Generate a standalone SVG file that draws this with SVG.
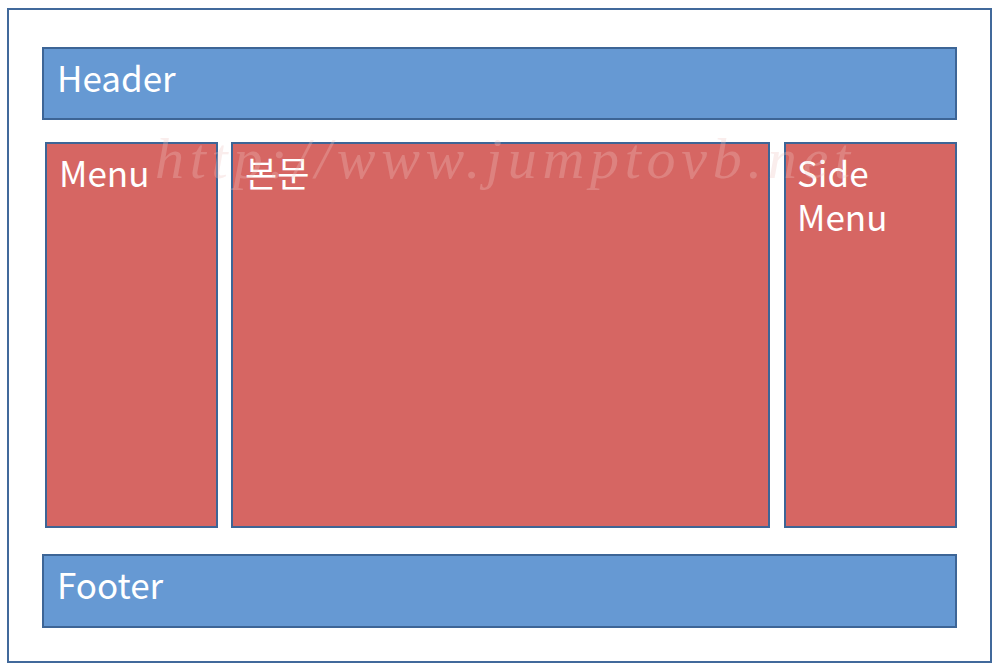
<svg xmlns="http://www.w3.org/2000/svg" width="1000" height="671" viewBox="0 0 1000 671">
<style>
.blue{fill:#6699d3;stroke:#3d6596;stroke-width:2}
.red{fill:#d66663;stroke:#3d6596;stroke-width:2}
.t{font-family:"Malgun Gothic","Noto Sans CJK KR","Noto Sans",sans-serif;font-size:35px;fill:#fff}
</style>
<rect width="1000" height="671" fill="#fff"/>
<rect x="8" y="9" width="983" height="653" fill="#fff" stroke="#41699b" stroke-width="2"/>
<g id="header"><rect class="blue" x="43" y="48" width="913" height="71"/><text class="t" x="57" y="92">Header</text></g>
<g id="menu"><rect class="red" x="46" y="143" width="171" height="384"/><text class="t" x="59" y="187">Menu</text></g>
<g id="body"><rect class="red" x="232" y="143" width="537" height="384"/><text class="t" x="245" y="187">본문</text></g>
<g id="side"><rect class="red" x="785" y="143" width="171" height="384"/><text class="t" x="797" y="187">Side</text><text class="t" x="797" y="231">Menu</text></g>
<g id="footer"><rect class="blue" x="43" y="555" width="913" height="72"/><text class="t" x="57" y="599">Footer</text></g>
<text x="155" y="178" font-family="'Liberation Serif',serif" font-style="italic" font-size="58" textLength="695" fill="#f0c4c2" opacity="0.3">http://www.jumptovb.net</text>
<g id="connectors"/>
</svg>
